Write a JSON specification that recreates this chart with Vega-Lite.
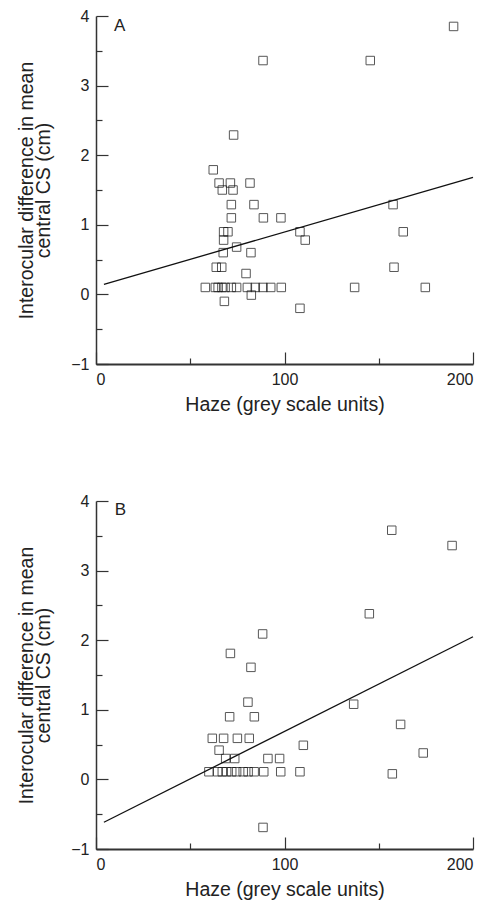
{
  "$schema": "https://vega.github.io/schema/vega-lite/v6.json",
  "padding": {"top": 8, "left": 16, "right": 5, "bottom": 5},
  "background": "white",
  "spacing": 79,
  "datasets": {
    "pointsA": [
      {"x": 189.7, "y": 3.85}, {"x": 88.6, "y": 3.36}, {"x": 145.5, "y": 3.36}, {"x": 73.0, "y": 2.29},
      {"x": 62.2, "y": 1.79}, {"x": 65.3, "y": 1.60}, {"x": 71.3, "y": 1.60}, {"x": 81.7, "y": 1.60},
      {"x": 67.0, "y": 1.50}, {"x": 72.7, "y": 1.50}, {"x": 71.8, "y": 1.29}, {"x": 83.8, "y": 1.29},
      {"x": 157.6, "y": 1.29}, {"x": 71.8, "y": 1.10}, {"x": 88.8, "y": 1.10}, {"x": 98.1, "y": 1.10},
      {"x": 67.7, "y": 0.90}, {"x": 70.0, "y": 0.90}, {"x": 108.2, "y": 0.90}, {"x": 163.0, "y": 0.90},
      {"x": 67.7, "y": 0.78}, {"x": 111.0, "y": 0.78}, {"x": 74.6, "y": 0.68}, {"x": 67.5, "y": 0.60},
      {"x": 82.2, "y": 0.60}, {"x": 63.8, "y": 0.39}, {"x": 66.7, "y": 0.39}, {"x": 158.1, "y": 0.39},
      {"x": 79.6, "y": 0.30},
      {"x": 58.0, "y": 0.10}, {"x": 63.3, "y": 0.10}, {"x": 64.8, "y": 0.10}, {"x": 66.8, "y": 0.10},
      {"x": 68.5, "y": 0.10}, {"x": 71.8, "y": 0.10}, {"x": 74.6, "y": 0.10}, {"x": 80.3, "y": 0.10},
      {"x": 84.5, "y": 0.10}, {"x": 88.6, "y": 0.10}, {"x": 92.7, "y": 0.10}, {"x": 98.3, "y": 0.10},
      {"x": 137.2, "y": 0.10}, {"x": 174.7, "y": 0.10},
      {"x": 82.4, "y": -0.01}, {"x": 68.1, "y": -0.10}, {"x": 108.2, "y": -0.20}
    ],
    "pointsB": [
      {"x": 156.9, "y": 3.58}, {"x": 188.9, "y": 3.36}, {"x": 145.0, "y": 2.38}, {"x": 88.4, "y": 2.09},
      {"x": 71.3, "y": 1.81}, {"x": 82.2, "y": 1.61}, {"x": 80.6, "y": 1.11}, {"x": 136.7, "y": 1.08},
      {"x": 70.9, "y": 0.90}, {"x": 84.0, "y": 0.90}, {"x": 161.6, "y": 0.79}, {"x": 61.7, "y": 0.59},
      {"x": 67.7, "y": 0.59}, {"x": 75.0, "y": 0.59}, {"x": 81.3, "y": 0.59}, {"x": 65.3, "y": 0.42},
      {"x": 110.0, "y": 0.49}, {"x": 173.6, "y": 0.38}, {"x": 68.8, "y": 0.30}, {"x": 73.6, "y": 0.30},
      {"x": 91.2, "y": 0.30}, {"x": 97.4, "y": 0.30},
      {"x": 59.9, "y": 0.11}, {"x": 64.5, "y": 0.11}, {"x": 67.0, "y": 0.11}, {"x": 69.3, "y": 0.11},
      {"x": 72.0, "y": 0.11}, {"x": 74.6, "y": 0.11}, {"x": 78.1, "y": 0.11}, {"x": 80.7, "y": 0.11},
      {"x": 83.9, "y": 0.11}, {"x": 89.0, "y": 0.11}, {"x": 98.0, "y": 0.11}, {"x": 108.2, "y": 0.11},
      {"x": 157.2, "y": 0.08}, {"x": 88.6, "y": -0.69}
    ],
    "lineA": [{"x": 4.2, "y": 0.145}, {"x": 200, "y": 1.68}],
    "lineB": [{"x": 4.2, "y": -0.616}, {"x": 200, "y": 2.05}],
    "labelA": [{"x": 9.5, "y": 3.86, "label": "A"}],
    "labelB": [{"x": 9.9, "y": 3.865, "label": "B"}]
  },
  "config": {
    "view": {"stroke": null},
    "font": "Liberation Sans",
    "axis": {
      "grid": false,
      "domainColor": "#333",
      "domainWidth": 1.5,
      "tickColor": "#333",
      "tickWidth": 1.2,
      "labelFont": "Liberation Sans",
      "labelFontSize": 16,
      "labelColor": "#222",
      "titleFont": "Liberation Sans",
      "titleFontSize": 19.5,
      "titleFontWeight": "normal",
      "titleColor": "#222"
    }
  },
  "vconcat": [
    {
      "width": 377,
      "height": 348,
      "resolve": {"axis": {"x": "independent", "y": "independent"}},
      "layer": [
        {
          "data": {"name": "pointsA"},
          "mark": {"type": "point", "shape": "square", "filled": false, "size": 72, "stroke": "#111", "strokeWidth": 1},
          "encoding": {
            "x": {"field": "x", "type": "quantitative", "scale": {"domain": [0, 200], "nice": false, "zero": false},
                  "axis": {"orient": "bottom", "values": [0, 100, 200], "tickSize": -12, "labelPadding": 19, "title": "Haze (grey scale units)", "titlePadding": 8, "domainWidth": 2}},
            "y": {"field": "y", "type": "quantitative", "scale": {"domain": [-1, 4], "nice": false, "zero": false},
                  "axis": {"orient": "left", "values": [-1, 0, 1, 2, 3, 4], "tickSize": -12, "labelPadding": 19, "title": ["Interocular difference in mean", "central CS (cm)"], "titleLineHeight": 17, "titlePadding": 17}}
          }
        },
        {
          "data": {"name": "lineA"},
          "mark": {"type": "line", "color": "#111", "strokeWidth": 1.3},
          "encoding": {
            "x": {"field": "x", "type": "quantitative", "axis": {"orient": "bottom", "values": [50, 150], "tickSize": -6, "labels": false, "domain": false, "title": null}},
            "y": {"field": "y", "type": "quantitative", "axis": {"orient": "left", "values": [-0.5, 0.5, 1.5, 2.5, 3.5], "tickSize": -6, "labels": false, "domain": false, "title": null}}
          }
        },
        {
          "data": {"name": "labelA"},
          "mark": {"type": "text", "align": "left", "baseline": "middle", "fontSize": 17, "color": "#222"},
          "encoding": {
            "x": {"field": "x", "type": "quantitative", "axis": null},
            "y": {"field": "y", "type": "quantitative", "axis": null},
            "text": {"field": "label"}
          }
        }
      ]
    },
    {
      "width": 377,
      "height": 348,
      "resolve": {"axis": {"x": "independent", "y": "independent"}},
      "layer": [
        {
          "data": {"name": "pointsB"},
          "mark": {"type": "point", "shape": "square", "filled": false, "size": 72, "stroke": "#111", "strokeWidth": 1},
          "encoding": {
            "x": {"field": "x", "type": "quantitative", "scale": {"domain": [0, 200], "nice": false, "zero": false},
                  "axis": {"orient": "bottom", "values": [0, 100, 200], "tickSize": -12, "labelPadding": 19, "title": "Haze (grey scale units)", "titlePadding": 8, "domainWidth": 2}},
            "y": {"field": "y", "type": "quantitative", "scale": {"domain": [-1, 4], "nice": false, "zero": false},
                  "axis": {"orient": "left", "values": [-1, 0, 1, 2, 3, 4], "tickSize": -12, "labelPadding": 19, "title": ["Interocular difference in mean", "central CS (cm)"], "titleLineHeight": 17, "titlePadding": 17}}
          }
        },
        {
          "data": {"name": "lineB"},
          "mark": {"type": "line", "color": "#111", "strokeWidth": 1.3},
          "encoding": {
            "x": {"field": "x", "type": "quantitative", "axis": {"orient": "bottom", "values": [50, 150], "tickSize": -6, "labels": false, "domain": false, "title": null}},
            "y": {"field": "y", "type": "quantitative", "axis": {"orient": "left", "values": [-0.5, 0.5, 1.5, 2.5, 3.5], "tickSize": -6, "labels": false, "domain": false, "title": null}}
          }
        },
        {
          "data": {"name": "labelB"},
          "mark": {"type": "text", "align": "left", "baseline": "middle", "fontSize": 17, "color": "#222"},
          "encoding": {
            "x": {"field": "x", "type": "quantitative", "axis": null},
            "y": {"field": "y", "type": "quantitative", "axis": null},
            "text": {"field": "label"}
          }
        }
      ]
    }
  ]
}
